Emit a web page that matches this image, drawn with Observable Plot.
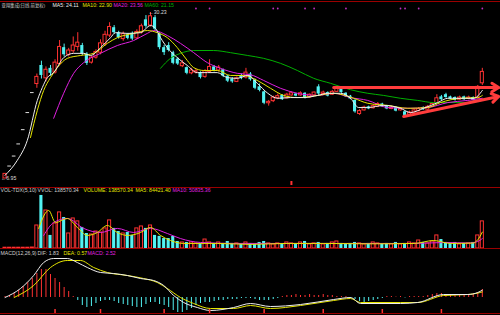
<!DOCTYPE html>
<html><head><meta charset="utf-8">
<script src="https://cdn.jsdelivr.net/npm/d3@7"></script>
<script src="https://cdn.jsdelivr.net/npm/@observablehq/plot@0.6"></script>
<style>
html,body{margin:0;padding:0;background:#000;}
#wrap{position:relative;width:500px;height:315px;background:#000;overflow:hidden;}
.p{position:absolute;left:0;}
.hl{position:absolute;left:0;width:500px;height:1px;background:#9a0000;}
</style></head><body>
<div id="wrap">
  <div class="p" id="main" style="top:0"></div>
  <div class="p" id="vol" style="top:186px"></div>
  <div class="p" id="macd" style="top:249px"></div>
  <div class="hl" style="top:1px"></div>
  <div class="hl" style="top:187px"></div>
  <div class="hl" style="top:248px"></div>
  <div class="hl" style="top:313px"></div>
</div>
<script>
// ---------- data ----------
const opens = [6.95,8.7,10.1,11.8,13.8,16.2,19.0,20.2,22.8,21.0,
 22.4,21.8,23.0,25.3,24.3,24.8,25.4,25.6,24.4,23.2,
 23.9,24.6,25.8,27.0,28.1,27.4,26.5,27.1,27.3,26.6,
 27.4,29.2,28.4,29.5,27.2,25.3,25.6,24.6,23.7,22.7,
 22.5,21.7,21.8,21.8,21.2,21.9,22.6,22.1,22.2,21.3,
 20.9,20.5,21.4,21.1,21.6,20.7,19.8,19.1,17.5,17.8,
 18.2,18.6,18.2,18.6,18.8,18.6,18.9,18.3,18.6,19.8,
 18.8,19.0,18.7,19.1,19.5,18.9,18.5,17.9,16.0,16.5,
 17.0,16.8,17.0,17.4,17.1,16.7,16.9,16.5,16.3,15.9,
 16.2,16.4,16.9,16.6,17.0,17.5,18.4,18.7,18.4,18.3,
 18.0,18.4,18.1,18.3,18.2,20.3];
const highs = [7.6,8.7,10.1,11.8,13.8,16.2,19.0,21.6,23.4,22.6,
 22.8,23.6,26.3,25.8,25.2,26.8,27.4,25.9,24.6,24.1,
 25.0,26.4,27.6,28.8,28.4,27.6,27.5,27.3,27.5,27.8,
 28.6,29.8,30.23,29.8,27.4,25.6,26.0,24.8,23.9,23.5,
 22.6,22.4,22.3,21.9,22.2,23.6,22.8,22.8,22.3,21.4,
 21.1,21.2,21.6,22.4,21.8,20.9,20.2,19.2,17.9,18.5,
 18.8,18.7,18.9,19.1,18.9,19.1,19.0,18.8,19.1,20.1,
 19.2,19.1,19.3,19.8,19.6,19.0,18.6,18.0,16.6,17.1,
 17.1,17.3,17.6,17.5,17.2,17.1,17.0,16.9,16.4,16.4,
 16.7,16.9,17.0,17.2,17.6,18.7,18.6,18.9,18.5,18.4,
 18.5,18.5,18.5,18.4,20.0,22.4];
const lows = [6.95,8.7,10.1,11.8,13.8,16.2,19.0,19.6,20.9,20.5,
 21.3,21.6,22.8,24.0,24.0,24.5,24.8,24.2,22.8,23.0,
 23.7,24.3,25.5,26.7,27.2,26.5,26.2,26.4,26.3,26.4,
 27.2,28.0,28.2,27.6,25.0,24.2,24.7,22.9,22.8,22.5,
 21.5,21.5,21.6,20.9,21.0,21.7,21.9,21.9,21.1,20.4,
 20.3,20.4,20.8,20.9,20.6,19.4,19.1,17.3,17.1,17.6,
 18.0,17.9,18.1,18.5,18.4,18.5,18.1,18.2,18.5,18.6,
 18.6,18.4,18.6,19.0,18.9,18.3,18.0,16.1,15.8,16.4,
 16.6,16.7,16.9,16.9,16.6,16.6,16.3,16.4,15.7,15.8,
 16.1,16.3,16.5,16.5,16.9,17.4,17.9,18.2,18.0,17.8,
 17.9,17.9,18.0,17.8,18.1,20.0];
const closes = [7.6,8.7,10.1,11.8,13.8,16.2,19.0,21.2,21.4,22.2,
 21.7,23.2,25.4,24.3,24.9,25.6,26.0,24.4,23.1,23.9,
 24.7,25.9,27.1,28.2,27.4,26.7,27.2,26.6,26.5,27.5,
 28.3,28.3,29.7,27.9,25.3,24.6,24.9,23.1,23.0,23.1,
 21.7,22.1,22.0,21.1,22.0,22.6,22.1,22.5,21.3,20.6,
 20.5,21.0,21.0,21.8,20.8,19.6,19.3,17.5,17.7,18.3,
 18.5,18.0,18.7,18.9,18.5,18.9,18.2,18.7,19.0,18.8,
 19.0,18.5,19.1,19.5,19.0,18.4,18.1,16.3,16.4,16.9,
 16.7,17.1,17.4,17.0,16.7,16.9,16.4,16.7,15.8,16.2,
 16.5,16.7,16.6,17.0,17.4,18.2,18.0,18.3,18.1,17.9,
 18.3,18.0,18.3,17.9,19.8,21.9];
// volume, thousands of lots
const volumes = [4,4,4,4,4,4,5,118,272,195,
 67,128,185,159,77,154,139,108,77,72,
 87,82,103,144,103,87,77,82,67,103,
 113,103,118,67,62,51,51,62,36,31,
 31,31,26,26,46,31,26,31,26,36,
 26,26,21,31,26,21,31,36,26,21,
 26,21,31,26,21,31,36,21,26,31,
 21,26,31,36,26,21,26,31,26,21,
 26,31,26,21,26,21,31,21,26,31,
 26,41,31,26,36,67,46,31,26,31,
 21,26,26,31,67,139];
// moving averages: [day, value]
const ma5 = [[0,7.4],[2.7,9.5],[4.9,12.3],[7.1,17.9],[8.2,19.7],[9.3,21.1],[10.7,21.8],[12.9,23.9],[15.1,24.5],[17.3,24.5],[18.8,24.2],[21,25.3],[23.2,26.7],[24.3,27.4],[26.9,27.3],[29.8,27.4],[32,28.4],[33.1,28.0],[34.2,26.7],[35.7,25.3],[37.9,23.9],[40.1,22.8],[42.3,21.8],[44.5,21.8],[46.7,21.8],[48.9,21.1],[51.1,21.0],[53.4,21.4],[55.5,20.3],[57.8,18.9],[60,18.2],[62.8,18.3],[65.7,18.3],[68.8,18.6],[71,18.9],[73.8,18.9],[76,18.2],[77.8,16.9],[79.8,16.9],[83.3,17.2],[87,16.8],[89.2,16.2],[92.1,16.8],[95.2,17.6],[97.4,18.2],[100.2,18.2],[103.1,18.2],[105,19.3]];
const ma10 = [[5.6,12.7],[7.1,16.5],[8.5,19.3],[10,21.1],[11.5,22.5],[13.7,23.8],[16.6,24.2],[19.5,24.5],[22.5,25.9],[24.7,26.7],[28.3,27.3],[31.3,27.7],[33.5,27.4],[35.7,26.7],[37.9,25.3],[40.1,23.5],[41.5,22.5],[43.7,22.1],[46.7,22.1],[49.6,21.4],[52.5,21.4],[55.5,20.7],[58.4,19.6],[61.3,18.6],[64.3,18.3],[68.8,18.6],[72.3,18.9],[76.7,18.2],[79.8,17.5],[84.2,17.2],[88.6,16.8],[93,16.9],[95.8,17.6],[100.2,18.2],[104,18.3],[105,18.6]];
const ma20 = [[10.7,15.4],[12.9,18.9],[15.1,21.7],[17.3,23.2],[21,24.5],[24.7,25.6],[28.3,26.3],[31.3,27.3],[32.7,27.7],[35.7,27.0],[38.6,25.9],[41.5,24.6],[44.5,23.2],[47.4,22.4],[51.1,21.7],[54,21.5],[56.9,20.7],[60.6,19.6],[64.3,18.9],[68.8,18.6],[72.3,18.9],[76,18.3],[79.8,17.9],[84.2,16.9],[89.2,16.8],[93,16.9],[97.4,17.6],[101.8,17.9],[105,18.2]];
const ma60 = [[34.2,22.4],[36.4,23.8],[38.6,24.5],[41.5,24.9],[45.9,24.9],[49.6,24.6],[53.4,24.2],[56.9,23.8],[60.6,23.1],[64.3,22.1],[67.9,21.0],[71.6,20.3],[76,19.4],[79.8,18.9],[83.3,18.6],[87,18.2],[90.8,17.9],[94.3,17.6],[98,17.6],[101.8,17.6],[105,17.9]];
const volMa5 = [[7.4,103],[9.6,195],[11.1,133],[13.7,154],[15.9,108],[18.1,67],[20.3,82],[22.5,118],[24.7,82],[26.9,67],[29.8,82],[32,108],[34.2,67],[36.4,41],[39.3,26],[43,26],[46.7,26],[54,21],[62,26],[70,26],[80,24],[90,26],[94.3,41],[98,26],[103,28],[104,45],[105,84]];
const volMa10 = [[8.5,67],[10.7,133],[13.7,154],[17.3,103],[21,82],[24.7,103],[28.3,82],[32,103],[35.7,77],[38.6,51],[43,31],[50.3,26],[60,26],[70,26],[80,26],[90,26],[97,31],[102,28],[104,36],[105,51]];
const macdHist = [0.25,0.5,1,1.75,2.75,3.75,4.75,6,7,7,
 5.75,4.75,3.75,2.5,1.5,0.25,-0.75,-2,-2.5,-2.25,
 -1.5,-1,-0.75,-0.75,-1,-1.5,-1.75,-2,-2.25,-2.5,
 -2.5,-1.75,-1.25,-1.25,-1.75,-2,-2.5,-3.25,-3.75,-3.75,
 -3.25,-2.75,-2,-1.5,-1.25,-1.25,-1,-0.75,-0.75,-0.5,
 -0.5,-0.5,-0.25,-0.25,-0.25,-0.5,-0.75,-0.75,-0.75,-0.5,
 -0.25,0.25,0.5,0.5,0.75,0.5,0.5,0.75,0.5,0.5,
 0.75,0.5,0.5,0.25,0.25,0.25,-0.25,-0.5,-1,-1.25,
 -1,-0.75,-0.5,-0.25,0.25,0.25,0.12,0.25,-0.12,0.25,
 0.25,0.25,0.25,0.5,0.75,1,1,0.75,0.75,0.5,
 0.5,0.5,0.5,0.75,1.25,2];
const dif = [[0,0],[3.4,2.25],[6.3,5.5],[8.5,8.75],[10.7,9.75],[13.7,9.75],[15.9,8.75],[18.1,7.5],[21,6.25],[23.9,6.0],[26.9,5.5],[29.8,4.75],[32.7,4.25],[34.9,3.0],[37.1,0.5],[39.3,-1.25],[42.3,-2.5],[45.2,-3.25],[50.3,-2.5],[54,-1.5],[58.4,-2.25],[65,-1.75],[72.3,-0.5],[76,0],[78.2,-1.5],[87,-1.5],[90.8,-1.25],[96.5,0.75],[101.8,0.75],[104,1.25],[105,1.83]];
const dea = [[2,0],[6.3,3.0],[10,7.5],[13.7,9.25],[16.6,9.25],[19.5,7.5],[22.5,6.25],[26.9,5.5],[30.5,4.75],[33.5,3.75],[35.7,2.25],[38.6,0],[41.5,-1.5],[45.2,-2.75],[50.3,-2.75],[54,-2.0],[58.4,-2.75],[65,-2.0],[72.3,-0.75],[76,-0.25],[78.2,-1.25],[87,-1.25],[90.8,-1.25],[96.5,0.5],[101.8,0.75],[104,1.1],[105,1.4]];
const arrows = [{x1:72.3,y1:19.71,x2:108.6,y2:19.71},{x1:87.7,y1:15.65,x2:108.6,y2:18.45}];
const infoDays = [42,45,59,60,66,68,75,87,88,91,105];
const markDays = [63];
const monthTicks = [11,21,35,45,57,70,83,96];
const titleTexts = ["亚翔集成(日线,前复权)","MA5: 24.11","MA10: 22.90","MA20: 23.56","MA60: 21.15"];
const volTexts = ["VOL-TDX(5,10)","VVOL: 138570.34","VOLUME: 138570.34","MA5: 84421.40","MA10: 50835.36"];
const macdTexts = ["MACD(12,26,9)","DIF: 1.83","DEA: 0.57","MACD: 2.52"];

// ---------- styling ----------
const RED = "#ff3232", CYAN = "#52f2f2", WHITE = "#eeeeee", YELLOW = "#e6e600", MAG = "#e020e0", GREEN = "#00b000";
const FONT = "Liberation Sans, Arial, Noto Sans CJK SC, sans-serif";
const FS = 5.2;
const titleLefts = [1,52,82,113,144], titleColors = ["#d0d0d0",WHITE,YELLOW,MAG,GREEN], titleSizes = [4.4,FS,FS,FS,FS];
const volLefts = [0,37,83,135,172], volColors = ["#d0d0d0","#d0d0d0",YELLOW,YELLOW,MAG];
const macdLefts = [0,37,63,87], macdColors = ["#d0d0d0","#d0d0d0",YELLOW,MAG];

const candles = closes.map((c, i) => ({i, o: opens[i], h: highs[i], l: lows[i], c, v: volumes[i]}));
const isFlat = d => d.o === d.c && d.h === d.l;
const isUp = d => !isFlat(d) && d.c >= d.o;
const isDown = d => d.c < d.o;
const W = 0.34;
const X = {domain: [-1, 109], axis: null};
const lbl = (texts, lefts, colors, dy, sizes) => texts.map((t, k) => Plot.text([t], {
  frameAnchor: "top-left", dx: lefts[k], dy, text: d => d, fill: colors[k],
  fontSize: sizes ? sizes[k] : FS, fontFamily: FONT, textAnchor: "start", lineAnchor: "middle"}));
const P = () => ({x: d => d[0], y: d => d[1]});

const lowC = candles.reduce((a, b) => b.l < a.l ? b : a);
const highC = candles.reduce((a, b) => b.h > a.h ? b : a);

const main = Plot.plot({
  width: 500, height: 186, marginTop: 10, marginBottom: 1, marginLeft: 0, marginRight: 0,
  style: {background: "#000", overflow: "visible"},
  x: X, y: {domain: [5.97, 30.51], axis: null},
  marks: [
    Plot.ruleX(markDays, {x: d => d, insetTop: 171, stroke: RED, strokeWidth: 2}),
    Plot.dot(infoDays, {x: d => d, frameAnchor: "top", dy: -2, r: 0.9, fill: "#c030c0", stroke: null}),
    Plot.ruleX(candles, {filter: isUp, x: "i", y1: "l", y2: "h", stroke: RED}),
    Plot.ruleX(candles, {filter: isDown, x: "i", y1: "l", y2: "h", stroke: CYAN}),
    Plot.rect(candles, {filter: isUp, x1: d => d.i - W, x2: d => d.i + W, y1: "o", y2: "c", fill: "#000", stroke: RED}),
    Plot.rect(candles, {filter: isDown, x1: d => d.i - W, x2: d => d.i + W, y1: "o", y2: "c", fill: CYAN}),
    Plot.ruleY(candles, {filter: isFlat, x1: d => d.i - 0.4, x2: d => d.i + 0.4, y: "c", stroke: "#dddddd"}),
    Plot.line(ma60, {...P(), stroke: GREEN, strokeWidth: 1, curve: "monotone-x"}),
    Plot.line(ma20, {...P(), stroke: MAG, strokeWidth: 1, curve: "monotone-x"}),
    Plot.line(ma10, {...P(), stroke: YELLOW, strokeWidth: 1, curve: "monotone-x"}),
    Plot.line(ma5, {...P(), stroke: WHITE, strokeWidth: 1, curve: "monotone-x"}),
    Plot.arrow(arrows, {x1: "x1", y1: "y1", x2: "x2", y2: "y2", stroke: "#ff3c3c", strokeWidth: 3, headLength: 4, headAngle: 65}),
    Plot.text([lowC], {x: "i", y: "l", text: d => "←" + d.l.toFixed(2), textAnchor: "start", dx: -4, fill: "#dddddd", fontSize: FS, fontFamily: FONT}),
    Plot.text([highC], {x: "i", y: "h", text: d => "←" + d.h.toFixed(2), textAnchor: "start", dx: -2, fill: "#dddddd", fontSize: FS, fontFamily: FONT}),
    ...lbl(titleTexts, titleLefts, titleColors, -5, titleSizes)
  ]
});
document.getElementById("main").append(main);

const vol = Plot.plot({
  width: 500, height: 63, marginTop: 7, marginBottom: 1, marginLeft: 0, marginRight: 0,
  style: {background: "#000", overflow: "visible"},
  x: X, y: {domain: [0, 282], axis: null},
  marks: [
    Plot.rect(candles, {filter: d => !isDown(d), x1: d => d.i - W, x2: d => d.i + W, y1: 0, y2: "v", fill: "#000", stroke: RED}),
    Plot.rect(candles, {filter: isDown, x1: d => d.i - W, x2: d => d.i + W, y1: 0, y2: "v", fill: CYAN}),
    Plot.line(volMa10, {...P(), stroke: MAG, strokeWidth: 1, curve: "monotone-x"}),
    Plot.line(volMa5, {...P(), stroke: YELLOW, strokeWidth: 1, curve: "monotone-x"}),
    ...lbl(volTexts, volLefts, volColors, -3)
  ]
});
document.getElementById("vol").append(vol);

const hist = macdHist.map((v, i) => ({i, v}));
const macd = Plot.plot({
  width: 500, height: 66, marginTop: 6, marginBottom: 2, marginLeft: 0, marginRight: 0,
  style: {background: "#000", overflow: "visible"},
  x: X, y: {domain: [-4, 10.5], axis: null},
  marks: [
    Plot.ruleX(hist, {filter: d => d.v >= 0, x: "i", y1: 0, y2: "v", stroke: RED}),
    Plot.ruleX(hist, {filter: d => d.v < 0, x: "i", y1: 0, y2: "v", stroke: CYAN}),
    Plot.line(dea, {...P(), stroke: YELLOW, strokeWidth: 1, curve: "monotone-x"}),
    Plot.line(dif, {...P(), stroke: WHITE, strokeWidth: 1, curve: "monotone-x"}),
    Plot.ruleX(monthTicks, {x: d => d, insetTop: 54, stroke: RED, strokeWidth: 1.5}),
    ...lbl(macdTexts, macdLefts, macdColors, -2)
  ]
});
document.getElementById("macd").append(macd);
</script>
</body></html>
